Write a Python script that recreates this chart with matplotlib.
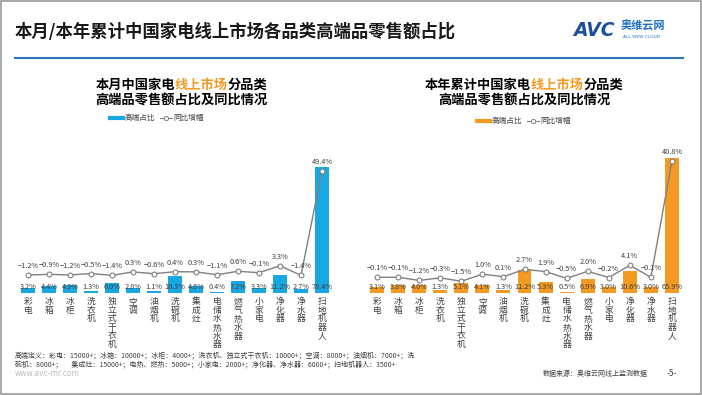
import matplotlib
matplotlib.use("Agg")
import matplotlib.pyplot as plt
from matplotlib.lines import Line2D
from matplotlib.patches import Rectangle

plt.rcParams['font.family'] = ['Noto Sans CJK SC', 'DejaVu Sans']

categories = ['彩电', '冰箱', '冰柜', '洗衣机', '独立式干衣机', '空调', '油烟机', '洗碗机',
              '集成灶', '电储水热水器', '燃气热水器', '小家电', '净化器', '净水器', '扫地机器人']

# 本月
shareMonth = [3.2, 4.4, 4.9, 1.3, 6.0, 2.8, 1.1, 10.3, 4.6, 0.4, 7.2, 3.3, 11.2, 2.7, 78.4]
yoyMonth = [-1.2, -0.9, -1.2, -0.5, -1.4, 0.3, -0.6, 0.4, 0.3, -1.1, 0.6, -0.1, 3.3, -1.4, 49.4]

# 本年累计
shareYear = [3.1, 3.8, 4.0, 1.3, 5.1, 4.1, 1.3, 11.2, 5.3, 0.5, 6.9, 3.0, 10.6, 3.0, 65.9]
yoyYear = [-0.1, -0.1, -1.2, -0.3, -1.5, 1.0, 0.1, 2.7, 1.9, -0.5, 2.0, -0.2, 4.1, -0.1, 40.8]

W, H = 702, 395
BLUE = '#19A7E2'
ORANGE = '#F29A22'
GRAY = '#808080'
TXT = '#404040'


def fx(px):
    return px / W


def fy(py):
    return 1 - py / H


def fmt(v):
    s = "{:.1f}%".format(abs(v))
    return ('−' + s) if v < 0 else s


def drawChart(fig, rect, shares, yoys, color, barTop, lineLim):
    ax = fig.add_axes(rect)
    xs = list(range(len(categories)))
    ax.bar(xs, shares, width=0.66, color=color)
    ax.set_xlim(-0.5, len(categories) - 0.5)
    ax.set_ylim(0, barTop)
    for x, v in zip(xs, shares):
        ax.annotate(fmt(v), (x, 0), xytext=(0, 2), textcoords='offset pixels',
                    ha='center', va='bottom', fontsize=5.3, color=TXT)
    ax.set_xticks(xs)
    ax.set_xticklabels(['\n'.join(c) for c in categories], fontsize=6.3,
                       linespacing=0.95, color=TXT, va='top')
    ax.tick_params(axis='x', length=0, pad=3)
    ax.set_yticks([])
    for s in ax.spines.values():
        s.set_visible(False)
    ax.patch.set_alpha(0)

    ax2 = ax.twinx()
    ax2.plot(xs, yoys, color=GRAY, lw=1, marker='o', markersize=3.5,
             markerfacecolor='white', markeredgecolor=GRAY, markeredgewidth=0.8)
    ax2.set_ylim(*lineLim)
    for x, v in zip(xs, yoys):
        ax2.annotate(fmt(v), (x, v), xytext=(0, 5), textcoords='offset pixels',
                     ha='center', va='bottom', fontsize=5.3, color=TXT,
                     annotation_clip=False)
    ax2.set_yticks([])
    for s in ax2.spines.values():
        s.set_visible(False)
    return ax


def subtitle(fig, cx, first, second, size=9.5):
    em = size * 100 / 72
    start = cx - len(first[0] + first[1] + first[2]) * em / 2
    y = fy(85)
    fig.text(fx(start), y, first[0], fontsize=size, weight='bold', va='center', ha='left')
    fig.text(fx(start + len(first[0]) * em), y, first[1], fontsize=size, weight='bold',
             va='center', ha='left', color=ORANGE)
    fig.text(fx(start + len(first[0] + first[1]) * em), y, first[2], fontsize=size,
             weight='bold', va='center', ha='left')
    fig.text(fx(cx), fy(101), second, fontsize=size, weight='bold', va='center', ha='center')


def legend(fig, x0, y, color):
    fig.add_artist(Line2D([fx(x0), fx(x0 + 13)], [fy(y), fy(y)], color=color, lw=3))
    fig.text(fx(x0 + 15), fy(y), '高端占比', fontsize=5.5, va='center', color=TXT)
    lx = x0 + 50
    fig.add_artist(Line2D([fx(lx), fx(lx + 12)], [fy(y), fy(y)], color=GRAY, lw=0.8))
    fig.add_artist(Line2D([fx(lx + 6)], [fy(y)], color=GRAY, lw=0, marker='o', markersize=3,
                          markerfacecolor='white', markeredgewidth=0.7))
    fig.text(fx(lx + 13), fy(y), '同比增幅', fontsize=5.5, va='center', color=TXT)


fig = plt.figure(figsize=(W / 100, H / 100), dpi=100)

# frame and header
fig.add_artist(Rectangle((0.001, 0.002), 0.997, 0.995, fill=False, edgecolor='#9A9A9A', lw=1.2))
fig.text(fx(15), fy(32), '本月/本年累计中国家电线上市场各品类高端品零售额占比',
         fontsize=12.5, weight='bold', va='center', ha='left', color='#1A1A1A')
fig.add_artist(Line2D([fx(15), fx(683)], [fy(58), fy(58)], color='#2E75B6', lw=1.5))
fig.text(fx(573), fy(30), 'AVC', fontsize=13.5, weight='heavy', style='italic',
         color='#1F4E9C', va='center', ha='left', family='DejaVu Sans')
fig.text(fx(621), fy(26), '奥维云网', fontsize=8, weight='bold', color='#2070C0',
         va='center', ha='left')
fig.text(fx(623), fy(37), 'ALL VIEW CLOUD', fontsize=3.2, color='#2070C0',
         va='center', ha='left', family='DejaVu Sans')

# left chart
subtitle(fig, 181, ('本月中国家电', '线上市场', '分品类'), '高端品零售额占比及同比情况')
legend(fig, 110, 118, BLUE)
drawChart(fig, [fx(17.5), fy(293), fx(315), 133 / H], shareMonth, yoyMonth, BLUE,
          133 / 1.61, (-(293 - 272.5) / 2.06, (272.5 - 160) / 2.06))

# right chart
subtitle(fig, 524, ('本年累计中国家电', '线上市场', '分品类'), '高端品零售额占比及同比情况')
legend(fig, 477, 121, ORANGE)
drawChart(fig, [fx(366.5), fy(293), fx(316), 138 / H], shareYear, yoyYear, ORANGE,
          138 / 2.05, (-(293 - 277) / 2.85, (277 - 155) / 2.85))

# footer
fig.text(fx(15), fy(355), '高端定义：彩电：15000+；冰箱：10000+；冰柜：4000+；洗衣机、独立式干衣机：10000+；空调：8000+；油烟机：7000+；洗',
         fontsize=5, color=TXT, va='center', ha='left')
fig.text(fx(15), fy(364), '碗机：8000+；      集成灶：15000+；电热、燃热：5000+；小家电：2000+；净化器、净水器：6000+；扫地机器人：3500+',
         fontsize=5, color=TXT, va='center', ha='left')
fig.text(fx(15), fy(374), 'www.avc-mr.com', fontsize=5.5, color='#BFBFBF', va='center',
         ha='left', family='DejaVu Sans')
fig.text(fx(543), fy(374), '数据来源：奥维云网线上监测数据', fontsize=5, color=TXT,
         va='center', ha='left')
fig.text(fx(667), fy(374), '-5-', fontsize=6, color=TXT, va='center', ha='left')

fig.savefig('out.png', dpi=100)
